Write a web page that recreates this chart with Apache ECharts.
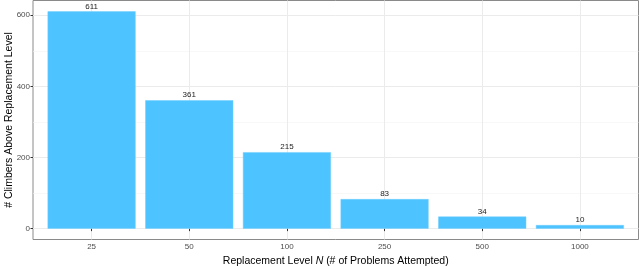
<!DOCTYPE html>
<html><head><meta charset="utf-8">
<script src="https://cdn.jsdelivr.net/npm/echarts@6/dist/echarts.min.js"></script>
<style>html,body{margin:0;padding:0;background:#fff}#c{width:640px;height:267px}</style>
</head><body><div id="c"></div>
<script>
const categories = ['25','50','100','250','500','1000'];
const climbers = [611, 361, 215, 83, 34, 10];
const yTicks = [0, 200, 400, 600];
const yMinor = [100, 300, 500];

const positions = categories.map((c, i) => i + 1);
const seriesData = climbers.map((v, i) => [positions[i], v]);
const FONT = 'Liberation Sans, Arial, Helvetica, sans-serif';

const chart = echarts.init(document.getElementById('c'), null, {renderer: 'canvas'});
chart.setOption({
  animation: false,
  backgroundColor: '#fff',
  grid: {left: 33, right: 1.5, top: 0.5, bottom: 27.5, show: true, borderColor: '#8a8a8a', borderWidth: 1, backgroundColor: 'transparent', containLabel: false, outerBoundsMode: 'none'},
  xAxis: {
    type: 'value', min: 0.4, max: 6.6,
    axisLine: {show: false},
    splitLine: {show: false},
    axisTick: {show: true, length: 2.5, lineStyle: {color: '#333'}, customValues: positions},
    axisLabel: {customValues: positions, formatter: v => categories[Math.round(v) - 1], fontSize: 8, color: '#4d4d4d', fontFamily: FONT, margin: 3},
    name: '{a|Replacement Level }{b|N}{a| (# of Problems Attempted)}',
    nameLocation: 'middle', nameGap: 16, nameMoveOverlap: false,
    nameTextStyle: {rich: {a: {fontSize: 10.5, color: '#000', fontFamily: FONT}, b: {fontSize: 10.5, color: '#000', fontStyle: 'italic', fontFamily: FONT}}}
  },
  yAxis: {
    type: 'value', min: -30.55, max: 641.55,
    axisLine: {show: false},
    splitLine: {show: false},
    axisTick: {show: true, length: 2.5, lineStyle: {color: '#333'}, customValues: yTicks},
    axisLabel: {customValues: yTicks, fontSize: 8, color: '#4d4d4d', fontFamily: FONT, margin: 3},
    name: '# Climbers Above Replacement Level',
    nameLocation: 'middle', nameGap: 18, nameRotate: 90, nameMoveOverlap: false,
    nameTextStyle: {fontSize: 10.5, color: '#000', fontFamily: FONT}
  },
  series: [
    {
      type: 'line', data: [], silent: true, z: 0,
      markLine: {
        silent: true, symbol: 'none', label: {show: false}, animation: false, z: 0,
        data: [
          ...yTicks.map(v => ({yAxis: v, lineStyle: {color: '#ebebeb', width: 1, type: 'solid'}})),
          ...yMinor.map(v => ({yAxis: v, lineStyle: {color: '#f4f4f4', width: 0.6, type: 'solid'}})),
          ...positions.map(v => ({xAxis: v, lineStyle: {color: '#ebebeb', width: 1, type: 'solid'}}))
        ]
      }
    },
    {
      type: 'bar', data: seriesData, barWidth: 88, z: 3,
      itemStyle: {color: '#4DC3FF', borderColor: '#6FCFFF', borderWidth: 0.5},
      label: {show: true, position: 'top', distance: 1, fontSize: 8, color: '#222', fontFamily: FONT}
    }
  ]
});
</script></body></html>
